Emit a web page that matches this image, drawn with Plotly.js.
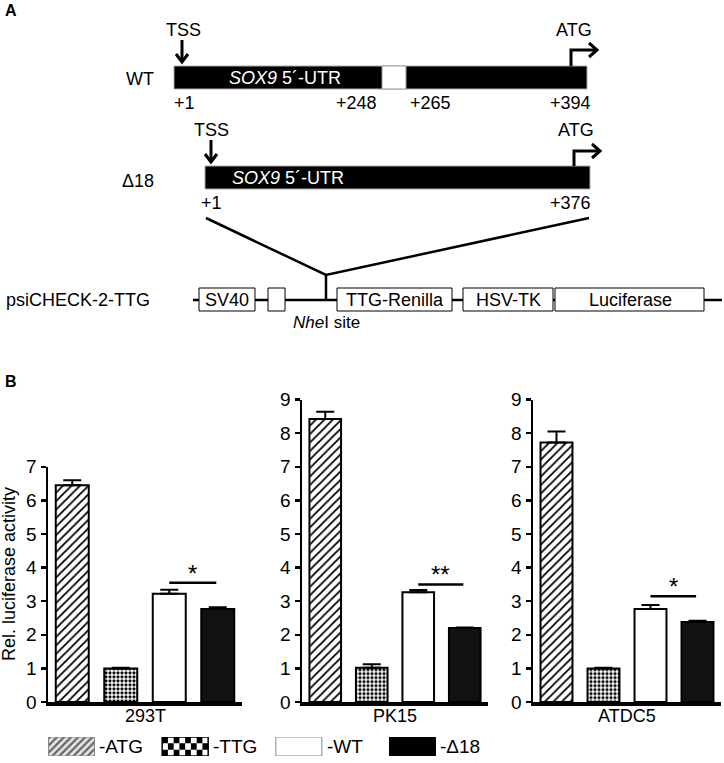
<!DOCTYPE html>
<html>
<head>
<meta charset="utf-8">
<script src="https://cdn.plot.ly/plotly-3.0.1.min.js"></script>
<style>html,body{margin:0;padding:0;background:#fff;}#chart{width:724px;height:763px;}</style>
</head>
<body>
<div id="chart"></div>
<script>
// ---------------- data ----------------
const cellLines = ['293T', 'PK15', 'ATDC5'];
const constructs = ['ATG', 'TTG', 'WT', 'Δ18'];
const meanATG = [6.45, 8.42, 7.72];
const meanTTG = [1.00, 1.02, 1.00];
const meanWT  = [3.22, 3.27, 2.77];
const meanD18 = [2.77, 2.20, 2.38];
const errATG = [0.15, 0.22, 0.33];
const errTTG = [0.02, 0.10, 0.02];
const errWT  = [0.12, 0.06, 0.12];
const errD18 = [0.05, 0.02, 0.04];
const sigLevel = [3.55, 3.50, 3.15];
const sigMark = ['*', '**', '*'];
const yMax = [7, 9, 9];
const legendLabels = ['-ATG', '-TTG', '-WT', '-Δ18'];

// ---------------- layout helpers ----------------
const W = 724, H = 763;
const X = p => p / W;
const Y = p => 1 - p / H;
const FONT = 'Liberation Sans, Arial, sans-serif';

const means = [meanATG, meanTTG, meanWT, meanD18];
const errs = [errATG, errTTG, errWT, errD18];

const barStyle = [
  {color: 'white', pattern: {shape: '/', fgcolor: 'black', bgcolor: 'white', size: 6, solidity: 0.3}},
  {color: 'white', pattern: {shape: '.', fgcolor: 'black', bgcolor: 'white', size: 4, solidity: 0.5}},
  {color: 'white'},
  {color: '#111'}
];
const swatchStyle = [
  {color: '#ddd', pattern: {shape: '/', fgcolor: '#666', bgcolor: '#e4e4e4', size: 5, solidity: 0.45}, line: {color: '#888', width: 1}},
  {color: 'white', line: {color: 'black', width: 1.5}},
  {color: 'white', line: {color: '#888', width: 1}},
  {color: '#000', line: {color: '#000', width: 1}}
];

// panel pixel geometry
const panelX = [[48, 242], [302, 488], [533, 721]];
const y0px = 702, unitPx = 33.6;

const traces = [];
const layout = {
  width: W, height: H,
  margin: {l: 0, r: 0, t: 0, b: 0},
  paper_bgcolor: 'white', plot_bgcolor: 'rgba(0,0,0,0)',
  showlegend: false, barmode: 'overlay',
  font: {family: FONT, color: 'black', size: 17},
  shapes: [], annotations: []
};

cellLines.forEach((cl, p) => {
  const xa = p === 0 ? 'x' : 'x' + (p + 1);
  const ya = p === 0 ? 'y' : 'y' + (p + 1);
  constructs.forEach((c, s) => {
    traces.push({
      type: 'bar', x: [c], y: [means[s][p]], xaxis: xa, yaxis: ya,
      width: [0.68],
      marker: Object.assign({line: {color: 'black', width: 2}}, barStyle[s]),
      error_y: {type: 'data', symmetric: false, array: [errs[s][p]], arrayminus: [0],
                color: 'black', thickness: 2, width: 9},
      hoverinfo: 'skip'
    });
  });
  const topPx = y0px - yMax[p] * unitPx;
  layout['xaxis' + (p === 0 ? '' : p + 1)] = {
    domain: [X(panelX[p][0]), X(panelX[p][1])], anchor: ya,
    type: 'category', categoryarray: constructs, range: [-0.5, 3.5],
    showticklabels: false, ticks: '', showline: true, linecolor: 'black', linewidth: 3.5,
    showgrid: false, zeroline: false, fixedrange: true
  };
  const tv = [];
  for (let i = 0; i <= yMax[p]; i++) tv.push(i);
  layout['yaxis' + (p === 0 ? '' : p + 1)] = {
    domain: [Y(y0px), Y(topPx)], anchor: xa, range: [0, yMax[p]],
    tickvals: tv, ticks: 'outside', ticklen: 5, tickwidth: 2.5, tickcolor: 'black',
    showline: true, linecolor: 'black', linewidth: 2.5,
    tickfont: {size: 19, family: FONT}, showgrid: false, zeroline: false, fixedrange: true
  };
  // significance bar
  layout.shapes.push({type: 'line', xref: xa, yref: ya, x0: 2, x1: 2.97,
    y0: sigLevel[p], y1: sigLevel[p], line: {color: 'black', width: 2.5}});
  layout.annotations.push({xref: xa, yref: ya, x: 2.48, y: sigLevel[p], text: sigMark[p],
    showarrow: false, yanchor: 'bottom', yshift: -6, font: {size: 24, family: FONT}});
  // cell-line label
  layout.annotations.push({xref: xa + ' domain', yref: 'paper', x: 0.5, y: Y(716),
    text: cl, showarrow: false, xanchor: 'center', yanchor: 'middle', font: {size: 18}});
});

// y-axis title
layout.annotations.push({xref: 'paper', yref: 'paper', x: X(9), y: Y(574), text: 'Rel. luciferase activity',
  textangle: -90, showarrow: false, xanchor: 'center', yanchor: 'middle', font: {size: 18}});
layout.annotations.push({xref: 'paper', yref: 'paper', x: X(3), y: Y(381), text: '<b>B</b>',
  showarrow: false, xanchor: 'left', yanchor: 'middle', font: {size: 16}});

// ---------------- legend swatches (key, not data) ----------------
const swCenters = [71.5, 412.5];
const swSpacing = (swCenters[1] - swCenters[0]) / 3;
layout.xaxis4 = {domain: [X(swCenters[0] - swSpacing / 2), X(swCenters[1] + swSpacing / 2)],
  range: [-0.5, 3.5], visible: false, fixedrange: true, anchor: 'y4'};
layout.yaxis4 = {domain: [Y(756), Y(737)], range: [0, 1], visible: false, fixedrange: true, anchor: 'x4'};
const swW = 46 / swSpacing;
constructs.forEach((c, s) => {
  traces.push({type: 'bar', x: [s], y: [1], xaxis: 'x4', yaxis: 'y4', width: [swW],
    marker: swatchStyle[s], hoverinfo: 'skip'});
  layout.annotations.push({xref: 'x4', yref: 'y4', x: s + swW / 2, y: 0.5, text: legendLabels[s],
    showarrow: false, xanchor: 'left', yanchor: 'middle', xshift: 3, font: {size: 19}});
});
// checkerboard for TTG key
const nc = 8, nr = 3;
for (let r = 0; r < nr; r++) for (let c = 0; c < nc; c++) {
  if ((r + c) % 2 === 0) {
    const x0 = 1 - swW / 2 + c * swW / nc;
    layout.shapes.push({type: 'rect', xref: 'x4', yref: 'y4', x0: x0, x1: x0 + swW / nc,
      y0: r / nr, y1: (r + 1) / nr, fillcolor: 'black', line: {width: 0}});
  }
}

// ---------------- panel A schematic ----------------
const S = layout.shapes, A = layout.annotations;
function rect(x0, y0, x1, y1, fill, lc, lw) {
  S.push({type: 'rect', xref: 'paper', yref: 'paper', x0: X(x0), x1: X(x1), y0: Y(y1), y1: Y(y0),
    fillcolor: fill, line: {color: lc, width: lw}});
}
function path(pts, lw) {
  const d = pts.map((p, i) => (i ? 'L' : 'M') + X(p[0]) + ',' + Y(p[1])).join(' ');
  S.push({type: 'path', xref: 'paper', yref: 'paper', path: d, line: {color: 'black', width: lw}});
}
function txt(x, y, t, size, opts) {
  A.push(Object.assign({xref: 'paper', yref: 'paper', x: X(x), y: Y(y), text: t, showarrow: false,
    xanchor: 'center', yanchor: 'middle', font: {size: size, family: FONT, color: 'black'}}, opts || {}));
}

txt(3, 10, '<b>A</b>', 16, {xanchor: 'left'});
// WT row
rect(174, 66, 587, 89, 'black', '#aaa', 1);
rect(382, 66, 406, 89, 'white', '#999', 1);
txt(140, 79, 'WT', 18);
txt(285, 78, '<i>SOX9</i> 5´-UTR', 18, {font: {size: 18, family: FONT, color: 'white'}});
txt(183, 30, 'TSS', 18);
path([[182, 40], [182, 62]], 3); path([[176, 54], [182, 62], [188, 54]], 3);
txt(574, 30, 'ATG', 18);
path([[571, 66], [571, 50], [596, 50]], 3); path([[589, 43], [597, 50], [589, 57]], 3);
txt(184, 103, '+1', 18); txt(356, 103, '+248', 18); txt(431, 103, '+265', 18); txt(570, 103, '+394', 18);
// Δ18 row
rect(205, 166, 590, 189, 'black', '#aaa', 1);
txt(138, 181, 'Δ18', 18);
txt(288, 178, '<i>SOX9</i> 5´-UTR', 18, {font: {size: 18, family: FONT, color: 'white'}});
txt(211, 130, 'TSS', 18);
path([[211, 140], [211, 162]], 3); path([[205, 154], [211, 162], [217, 154]], 3);
txt(576, 130, 'ATG', 18);
path([[574, 166], [574, 151], [599, 151]], 3); path([[592, 144], [600, 151], [592, 158]], 3);
txt(212, 203, '+1', 18); txt(570, 203, '+376', 18);
// insertion lines
path([[206, 218], [326, 275], [589, 218]], 2.5);
path([[326, 275], [326, 300]], 2.5);
// vector backbone
txt(4, 300, 'psiCHECK-2-TTG', 18, {xanchor: 'left'});
path([[193, 300], [722, 300]], 2.5);
rect(199, 288, 255, 311, 'white', 'black', 1);
rect(268, 288, 285, 311, 'white', 'black', 1);
rect(337, 288, 452, 311, 'white', 'black', 1);
rect(463, 288, 553, 311, 'white', 'black', 1);
rect(555, 288, 704, 311, 'white', 'black', 1);
txt(227, 300, 'SV40', 18); txt(395, 300, 'TTG-Renilla', 18); txt(508, 300, 'HSV-TK', 18); txt(630, 300, 'Luciferase', 18);
txt(326, 323, '<i>Nhe</i>I site', 17);

Plotly.newPlot('chart', traces, layout, {staticPlot: true, displayModeBar: false});
</script>
</body>
</html>
